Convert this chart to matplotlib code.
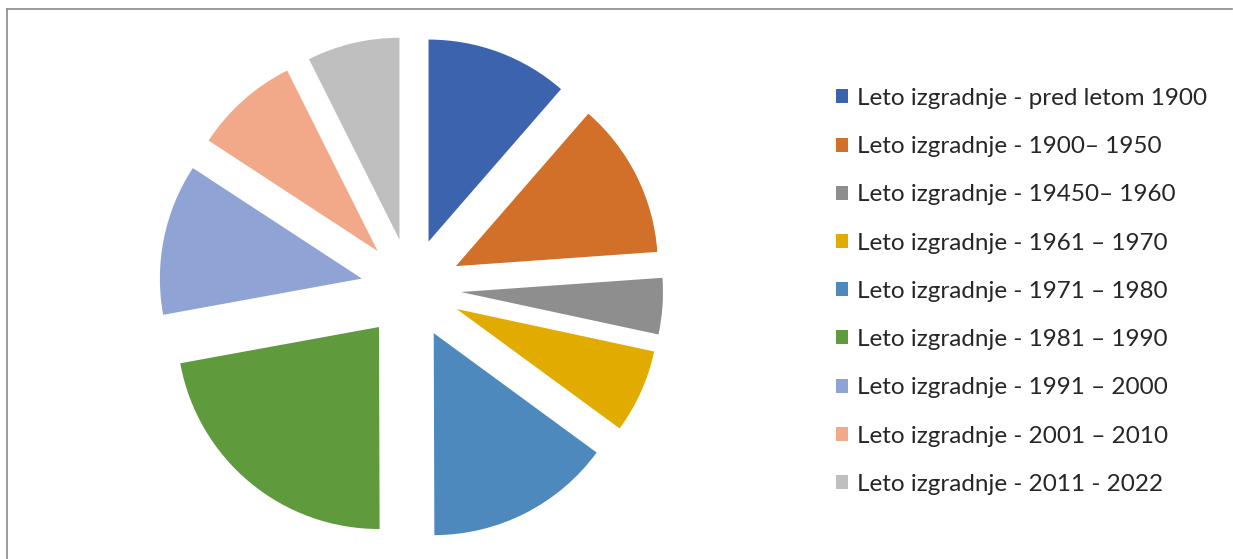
import matplotlib.pyplot as plt
from matplotlib.lines import Line2D

# Share of buildings by construction period (%)
labels = [
    "Leto izgradnje - pred letom 1900",
    "Leto izgradnje - 1900\u2013 1950",
    "Leto izgradnje - 19450\u2013 1960",
    "Leto izgradnje - 1961 \u2013 1970",
    "Leto izgradnje - 1971 \u2013 1980",
    "Leto izgradnje - 1981 \u2013 1990",
    "Leto izgradnje - 1991 \u2013 2000",
    "Leto izgradnje - 2001 \u2013 2010",
    "Leto izgradnje - 2011 - 2022",
]
shares = [11.4, 12.5, 4.5, 6.7, 14.9, 22.2, 12.1, 8.4, 7.4]
colors = ["#3C64AE", "#D2702A", "#8E8E8E", "#E1AB00", "#4E89BD",
          "#5F9A3D", "#8FA3D5", "#F1A98A", "#BFBFBF"]

W, H = 1233, 559
fig = plt.figure(figsize=(W / 100, H / 100), dpi=100)
plt.rcParams["font.family"] = ["Lato", "DejaVu Sans"]

# pie: radius 202 px centred at (411, 288.5) px
cx, cy, r = 411, 288.5, 202
half = 1.3 * r
ax = fig.add_axes([(cx - half) / W, (H - cy - half) / H, 2 * half / W, 2 * half / H])
wedges, _ = ax.pie(shares, colors=colors, startangle=90, counterclock=False,
                   explode=[0.248] * len(shares), radius=1.0)
ax.set_xlim(-1.3, 1.3)
ax.set_ylim(-1.3, 1.3)
ax.set_aspect("equal")
ax.axis("off")

fig.legend(wedges, labels, loc="upper left",
           bbox_to_anchor=(836 / W, 1 - 88 / H), frameon=False,
           fontsize=17.5, handlelength=0.51, handleheight=0.51,
           handletextpad=0.37, labelspacing=1.12, borderpad=0,
           borderaxespad=0, labelcolor="#262626")

# chart border (top and left edges)
fig.add_artist(Line2D([6.5 / W, 1232 / W], [1 - 8.5 / H, 1 - 8.5 / H],
                      color="#8a8a8a", lw=1.2, transform=fig.transFigure))
fig.add_artist(Line2D([6.5 / W, 6.5 / W], [0, 1 - 8.5 / H],
                      color="#8a8a8a", lw=1.2, transform=fig.transFigure))

fig.savefig("out.png", dpi=100)
